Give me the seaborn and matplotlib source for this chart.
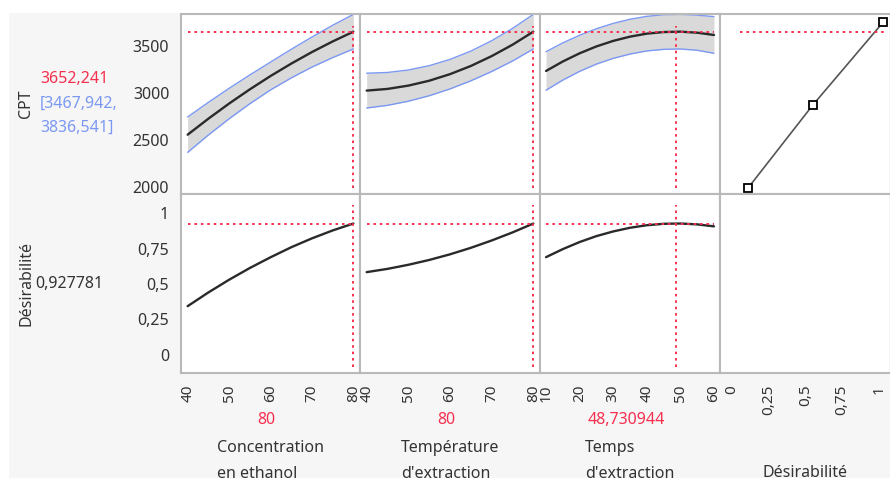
import numpy as np
import pandas as pd
import matplotlib
matplotlib.use('Agg')
import matplotlib.pyplot as plt
import seaborn as sns
from matplotlib.patches import Rectangle
from matplotlib.ticker import FixedLocator, MultipleLocator

sns.set_style('white')
plt.rcParams['font.family'] = ['Noto Sans', 'DejaVu Sans']

# ---------------- data ----------------
conc_x = [40, 45, 50, 55, 60, 65, 70, 75, 80]
conc_cpt = [2556, 2726, 2887, 3038, 3180, 3312, 3435, 3548, 3652]
conc_half = [188, 174, 162, 153, 148, 152, 160, 172, 184]
conc_des = [0.343, 0.440, 0.530, 0.613, 0.689, 0.760, 0.823, 0.879, 0.928]

temp_x = [40, 45, 50, 55, 60, 65, 70, 75, 80]
temp_cpt = [3025, 3043, 3078, 3130, 3200, 3287, 3392, 3513, 3652]
temp_half = [185, 175, 166, 160, 157, 158, 164, 173, 184]
temp_des = [0.584, 0.607, 0.636, 0.670, 0.710, 0.756, 0.808, 0.865, 0.928]

time_x = [10, 15, 20, 25, 30, 35, 40, 45, 50, 55, 60]
time_cpt = [3234, 3335, 3422, 3495, 3554, 3599, 3631, 3648, 3652, 3641, 3617]
time_half = [205, 198, 192, 188, 186, 185, 184, 184, 184, 187, 195]
time_des = [0.690, 0.747, 0.797, 0.839, 0.872, 0.898, 0.916, 0.926, 0.928, 0.922, 0.908]

desfun_d = [0.11, 0.55, 1.03]
desfun_cpt = [1992, 2871, 3753]

factor_names = ["Concentration\nen ethanol", "Température\nd'extraction", "Temps\nd'extraction"]
factor_current = [80, 80, 48.730944]
factor_current_txt = ["80", "80", "48,730944"]
cpt_pred = 3652.241
cpt_lo, cpt_hi = 3467.942, 3836.541
des_pred = 0.927781

cpt_ticks = [2000, 2500, 3000, 3500]
des_ticks = [0, 0.25, 0.5, 0.75, 1]
des_ticklabels = ['0', '0,25', '0,5', '0,75', '1']

# ---------------- layout ----------------
W, H = 890, 484
fig = plt.figure(figsize=(W / 100, H / 100), dpi=100)
fig.patch.set_facecolor('white')
fig.add_artist(Rectangle((9 / W, 1 - 478 / H), (890 - 9) / W, (478 - 13) / H,
                         transform=fig.transFigure, facecolor='#f6f6f6',
                         edgecolor='none', zorder=0))


def rect(l, t, r, b):
    return [l / W, 1 - b / H, (r - l) / W, (b - t) / H]


cols = [(181, 360), (360, 540), (540, 720), (720, 889)]
rows = [(14, 194), (194, 373)]

RED = '#f5304f'
BLUE = '#7b98f3'
SPINE = '#b9b9b9'
TICKC = '#9a9a9a'
TXT = '#333333'
FS = 11.5
XFS = 11

xlims = [(38.4, 81.6), (38.4, 81.6), (8.2, 61.8), (-0.083, 1.07)]
cpt_ylim = (1925, 3840)
des_ylim = (-0.13, 1.137)

series = [
    (conc_x, conc_cpt, conc_half, conc_des),
    (temp_x, temp_cpt, temp_half, temp_des),
    (time_x, time_cpt, time_half, time_des),
]

axes = [[None] * 4 for _ in range(2)]
for r, (t, b) in enumerate(rows):
    for c, (l, rr) in enumerate(cols):
        ax = fig.add_axes(rect(l, t, rr, b))
        ax.set_facecolor('white')
        for name, sp in ax.spines.items():
            sp.set_color(SPINE)
            sp.set_linewidth(1.5)
        if c == 3:
            ax.spines['right'].set_visible(False)
        ax.set_xlim(*xlims[c])
        ax.set_ylim(*(cpt_ylim if r == 0 else des_ylim))
        ax.tick_params(axis='both', which='both', direction='out', color=TICKC,
                       labelcolor=TXT, labelsize=FS, width=1)
        ax.tick_params(axis='x', labelsize=XFS)
        ax.tick_params(which='major', length=5)
        ax.tick_params(which='minor', length=3)
        axes[r][c] = ax


def dotted(ax, kind, v, a, b):
    kw = dict(color=RED, linewidth=1.4, linestyle=(0, (1.3, 2.0)), zorder=5)
    if kind == 'h':
        ax.plot([a, b], [v, v], **kw)
    else:
        ax.plot([v, v], [a, b], **kw)


for c in range(3):
    xs, cpt, half, des = series[c]
    df = pd.DataFrame({'x': xs, 'cpt': cpt, 'half': half, 'des': des})
    df['lo'] = df['cpt'] - df['half']
    df['hi'] = df['cpt'] + df['half']
    ax = axes[0][c]
    ax.fill_between(df['x'], df['lo'], df['hi'], color='#d9d9d9', linewidth=0, zorder=1)
    sns.lineplot(data=df, x='x', y='lo', ax=ax, color=BLUE, linewidth=1.0, zorder=2)
    sns.lineplot(data=df, x='x', y='hi', ax=ax, color=BLUE, linewidth=1.0, zorder=2)
    sns.lineplot(data=df, x='x', y='cpt', ax=ax, color='#2a2a2a', linewidth=1.7, zorder=3)
    dotted(ax, 'h', cpt_pred, xs[0], xs[-1])
    dotted(ax, 'v', factor_current[c], 1990, 3715)

    ax2 = axes[1][c]
    sns.lineplot(data=df, x='x', y='des', ax=ax2, color='#2a2a2a', linewidth=1.7, zorder=3)
    dotted(ax2, 'h', des_pred, xs[0], xs[-1])
    dotted(ax2, 'v', factor_current[c], -0.085, 1.06)

# desirability function panel
axd = axes[0][3]
dfd = pd.DataFrame({'d': desfun_d, 'cpt': desfun_cpt})
sns.lineplot(data=dfd, x='d', y='cpt', ax=axd, color='#555555', linewidth=1.2,
             marker='s', markersize=6, markerfacecolor='white',
             markeredgecolor='black', markeredgewidth=1.3, zorder=4)
dotted(axd, 'h', cpt_pred, 0.055, 1.04)

# ticks
for r in range(2):
    for c in range(4):
        ax = axes[r][c]
        ax.set_xlabel('')
        ax.set_ylabel('')
        if c == 0:
            if r == 0:
                ax.yaxis.set_major_locator(FixedLocator(cpt_ticks))
                ax.yaxis.set_minor_locator(MultipleLocator(250))
                ax.set_yticklabels([str(v) for v in cpt_ticks])
            else:
                ax.yaxis.set_major_locator(FixedLocator(des_ticks))
                ax.set_yticklabels(des_ticklabels)
        else:
            ax.set_yticks([])
            ax.yaxis.set_minor_locator(FixedLocator([]))
        if r == 1 and c < 3:
            if c < 2:
                ax.xaxis.set_major_locator(FixedLocator([40, 50, 60, 70, 80]))
            else:
                ax.xaxis.set_major_locator(FixedLocator([10, 20, 30, 40, 50, 60]))
            ax.xaxis.set_minor_locator(MultipleLocator(5))
            ax.set_xticklabels([str(int(v)) for v in ax.get_xticks()], rotation=90)
        elif r == 1 and c == 3:
            ax.xaxis.set_major_locator(FixedLocator(des_ticks))
            ax.set_xticklabels(des_ticklabels, rotation=90)
        else:
            ax.set_xticks([])
            ax.xaxis.set_minor_locator(FixedLocator([]))

# left side texts
def ftext(x, y, s, **kw):
    fig.text(x / W, 1 - y / H, s, fontsize=FS, **kw)

ftext(26, 104, 'CPT', rotation=90, ha='center', va='center', color=TXT)
ftext(40, 79, '3652,241', ha='left', va='center', color=RED)
ftext(40, 104, '[3467,942,', ha='left', va='center', color=BLUE)
ftext(40, 128, '3836,541]', ha='left', va='center', color=BLUE)
ftext(26, 283, 'Désirabilité', rotation=90, ha='center', va='center', color=TXT)
ftext(35, 284, '0,927781', ha='left', va='center', color=TXT)

# bottom texts
centers = [(l + r) / 2 for l, r in cols]
for c in range(3):
    ftext(centers[c] - 4, 420, factor_current_txt[c], ha='center', va='center', color=RED)
    ftext(centers[c], 461, factor_names[c], ha='center', va='center',
          multialignment='left', color=TXT, linespacing=1.75)
ftext(centers[3], 473, 'Désirabilité', ha='center', va='center', color=TXT)

fig.savefig('out.png', dpi=100, facecolor=fig.get_facecolor())
